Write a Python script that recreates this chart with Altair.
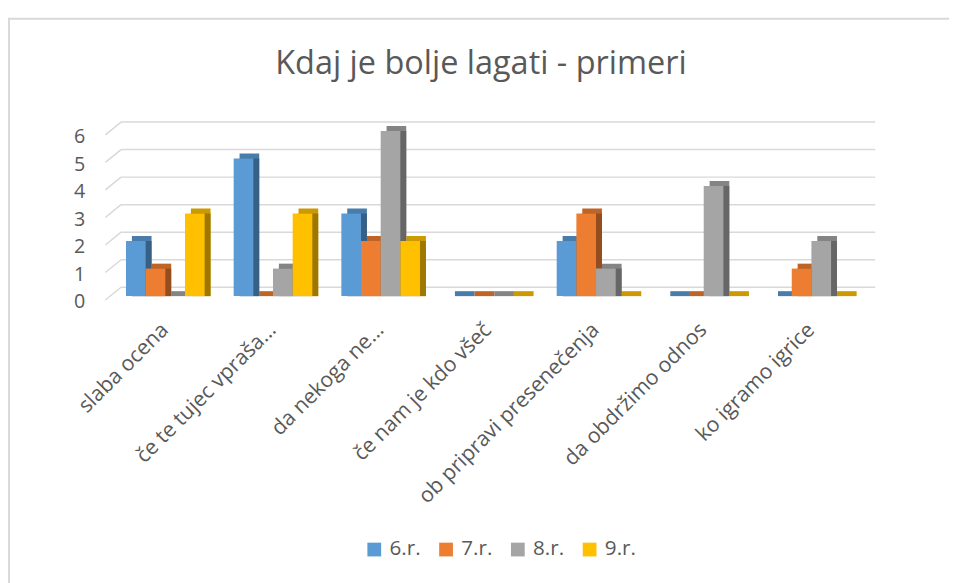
import altair as alt
import pandas as pd

categories = ["slaba ocena", "če te tujec vpraša…", "da nekoga ne…", "če nam je kdo všeč",
              "ob pripravi presenečenja", "da obdržimo odnos", "ko igramo igrice"]
series = ["6.r.", "7.r.", "8.r.", "9.r."]
v6 = [2, 5, 3, 0, 2, 0, 0]
v7 = [1, 0, 2, 0, 3, 0, 1]
v8 = [0, 1, 6, 0, 1, 4, 2]
v9 = [3, 3, 2, 0, 0, 0, 0]
y_ticks = [0, 1, 2, 3, 4, 5, 6]
title_text = "Kdaj je bolje lagati - primeri"

front_colors = ["#5B9BD5", "#ED7D31", "#A5A5A5", "#FFC000"]
top_colors = ["#497CAA", "#BE6427", "#848484", "#CC9A00"]
side_colors = ["#386084", "#934D1E", "#666666", "#9E7700"]

rows = []
for s, vals in zip(series, [v6, v7, v8, v9]):
    for c, v in zip(categories, vals):
        rows.append({"cat": c, "series": s, "value": v})
df = pd.DataFrame(rows)
grid_df = pd.DataFrame({"value": y_ticks})

W, H = 777, 168
TXT = "#595959"
FONT = "Open Sans"

x_enc = alt.X("cat:N", sort=categories,
              scale=alt.Scale(paddingInner=0.27, paddingOuter=0.1825),
              axis=alt.Axis(title=None, labelAngle=-45, labelAlign="right", labelBaseline="middle",
                            labelPadding=31, domain=False, ticks=False, labelFontSize=21.5,
                            labelColor=TXT, labelFont=FONT, labelLimit=400))
xo_front = alt.XOffset("series:N", sort=series,
                       scale=alt.Scale(paddingInner=0, paddingOuter=0, range=[0, 80]))
xo_shadow = alt.XOffset("series:N", sort=series,
                        scale=alt.Scale(paddingInner=0, paddingOuter=0, range=[6, 86]))
y_enc = alt.Y("value:Q", scale=alt.Scale(domain=[0, 6], nice=False),
              axis=alt.Axis(title=None, values=y_ticks, grid=False, domain=False, ticks=False,
                            labelPadding=22, labelOffset=6, labelFontSize=20, labelColor=TXT,
                            labelFont=FONT))

border = alt.Chart(pd.DataFrame({"a": [0]})).mark_rect(
    fillOpacity=0, stroke="#D9D9D9", strokeWidth=2
).encode(x=alt.value(-99), x2=alt.value(900), y=alt.value(-114), y2=alt.value(500))

grid = alt.Chart(grid_df).mark_rule(color="#D9D9D9", strokeWidth=1.5, yOffset=-9, y2Offset=-9).encode(
    y=y_enc, x=alt.value(15), x2=alt.value(782))
diag = alt.Chart(grid_df).mark_rule(color="#D9D9D9", strokeWidth=1.5, yOffset=4, y2Offset=-9).encode(
    y=y_enc, y2=alt.Y2("value:Q"), x=alt.value(-1), x2=alt.value(15))

top = alt.Chart(df).mark_bar(yOffset=-5, y2Offset=-5).encode(
    x=x_enc, xOffset=xo_shadow, y=y_enc, y2=alt.datum(-0.18),
    color=alt.Color("series:N", sort=series, scale=alt.Scale(domain=series, range=top_colors), legend=None))
side = alt.Chart(df).mark_bar().encode(
    x=x_enc, xOffset=xo_shadow, y=y_enc, y2=alt.datum(0),
    color=alt.Color("series:N", sort=series, scale=alt.Scale(domain=series, range=side_colors), legend=None))
front = alt.Chart(df).mark_bar().encode(
    x=x_enc, xOffset=xo_front, y=y_enc, y2=alt.datum(0),
    color=alt.Color("series:N", sort=series, scale=alt.Scale(domain=series, range=front_colors),
                    legend=alt.Legend(title=None, orient="none", legendX=262, legendY=415,
                                      direction="horizontal", symbolType="square", symbolSize=196,
                                      symbolStrokeWidth=0, labelFontSize=21, labelColor=TXT,
                                      labelFont=FONT, labelOffset=5, columnPadding=15)))

title = alt.Chart(pd.DataFrame({"t": [title_text]})).mark_text(
    fontSize=33, font=FONT, color=TXT, align="center", baseline="middle"
).encode(x=alt.value(381), y=alt.value(-68), text="t:N")

chart = alt.layer(border, grid, diag, top, side, front, title).resolve_scale(
    color="independent", xOffset="independent"
).properties(
    width=W, height=H,
    autosize=alt.AutoSizeParams(type="none"),
    padding={"left": 100, "top": 120, "right": 80, "bottom": 300},
).configure_view(stroke=None)

chart.save("out.html", embed_options={"renderer": "svg", "actions": False})
